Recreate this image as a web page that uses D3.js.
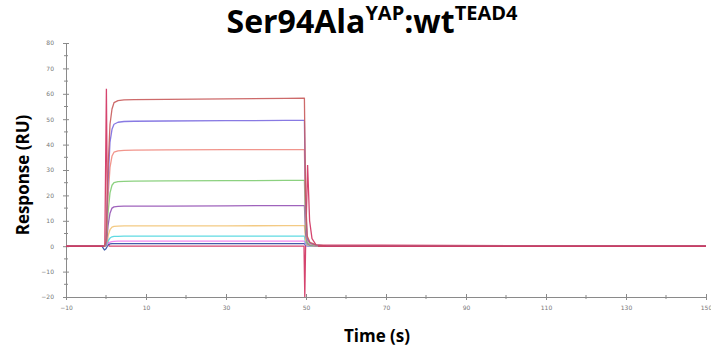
<!DOCTYPE html>
<html>
<head>
<meta charset="utf-8">
<script src="https://cdn.jsdelivr.net/npm/d3@7"></script>
<style>
  html, body { margin: 0; padding: 0; background: #fff; }
  svg { display: block; }
</style>
</head>
<body>
<svg id="chart" width="711" height="353"></svg>
<script>
// Sensorgram sample times (s) shared by the analyte curves
const times = [-10, -1, -0.4, 0, 0.5, 1, 1.5, 2, 3, 4.5, 7, 15, 30, 45, 49.6, 49.9, 50.3, 51, 52.5, 55, 150];

// Response (RU) of each analyte concentration, highest first
const curve1 = [0, 0, 0, 2, 30, 48, 54, 56.5, 57.3, 57.6, 57.7, 57.8, 58, 58.2, 58.3, 20, 4, 1.5, 0.5, 0.1, 0];
const curve2 = [0, 0, 0, 1, 25, 41, 46, 48, 48.8, 49.1, 49.2, 49.3, 49.4, 49.5, 49.5, 16, 3, 1.2, 0.4, 0.1, 0];
const curve3 = [0, 0, 0, 1, 19, 31, 35.5, 37, 37.5, 37.7, 37.8, 37.9, 38, 38, 38, 12, 2.5, 1, 0.3, 0.1, 0];
const curve4 = [0, 0, 0, 0.5, 13, 21, 24, 25, 25.4, 25.5, 25.6, 25.7, 25.8, 25.9, 25.9, 8, 1.5, 0.5, 0.2, 0, 0];
const curve5 = [0, 0, 0, 0.3, 8, 13, 15, 15.5, 15.7, 15.8, 15.8, 15.8, 15.9, 16, 16, 5, 1, 0.3, 0.1, 0, 0];
const curve6 = [0, 0, 0, 0.2, 4, 6.5, 7.5, 7.8, 7.9, 8, 8, 8, 8, 8.1, 8.1, 2.5, 0.5, 0.2, 0, 0, 0];
const curve7 = [0, 0, 0, 0.1, 2, 3.2, 3.7, 3.9, 3.9, 4, 4, 4, 4, 4, 4, 1.2, 0.3, 0.1, 0, 0, 0];
const curve8 = [0, 0, 0, 0, 1, 1.6, 1.8, 1.9, 2, 2, 2, 2, 2, 2, 2, 0.6, 0.2, 0, 0, 0, 0];
const curve9 = [0, 0, -1.5, -1, 0.5, 0.9, 1, 1, 1, 1, 1, 1, 1, 1, 1, 0.3, 0.1, 0, 0, 0, 0];
const curves = [curve1, curve2, curve3, curve4, curve5, curve6, curve7, curve8, curve9];
const curveColors = ["#c85a5a", "#7b6be0", "#f08a80", "#7fcc72", "#9552b5", "#f2c477", "#4fd6df", "#f07cf0", "#2f4aa0"];

// Buffer blank with injection spikes
const blankTimes = [-10, -0.3, 0.1, 0.4, 0.8, 49.5, 49.7, 49.9, 50.4, 50.9, 51.5, 52.5, 150];
const blankValues = [0, 0, 62, 2, 0, 0, -20, 0, 32, 10, 3, 0.5, 0];
const blankColor = "#d0305e";

// Axis ticks
const xLabelTicks = [-10, 10, 30, 50, 70, 90, 110, 130, 150];
const xMinorTicks = [0, 20, 40, 60, 80, 100, 120, 140];
const yLabelTicks = [-20, -10, 0, 10, 20, 30, 40, 50, 60, 70, 80];
const yMinorTicks = [-15, -5, 5, 15, 25, 35, 45, 55, 65, 75];

const svg = d3.select("#chart");
const x = d3.scaleLinear().domain([-10, 150]).range([66, 706]);
const y = d3.scaleLinear().domain([-20, 80]).range([297, 43]);

const axisColor = "#8a8a8a";
const tickFont = "6px 'DejaVu Sans', sans-serif";

// X axis along the bottom (y = -20)
const xAxis = svg.append("g").attr("transform", `translate(0,${y(-20)})`)
  .call(d3.axisBottom(x).tickValues(xLabelTicks).tickSize(3).tickPadding(6));
xAxis.selectAll(".tick line").attr("y1", -3);
xAxis.append("g").selectAll("line").data(xMinorTicks).join("line")
  .attr("x1", d => x(d)).attr("x2", d => x(d)).attr("y1", -2).attr("y2", 2)
  .attr("stroke", axisColor);

// Y axis on the left
const yAxis = svg.append("g").attr("transform", `translate(${x(-10)},0)`)
  .call(d3.axisLeft(y).tickValues(yLabelTicks).tickSize(3).tickPadding(9));
yAxis.selectAll(".tick line").attr("x1", 3);
yAxis.append("g").selectAll("line").data(yMinorTicks).join("line")
  .attr("y1", d => y(d)).attr("y2", d => y(d)).attr("x1", -2).attr("x2", 2)
  .attr("stroke", axisColor);

[xAxis, yAxis].forEach(g => {
  g.select(".domain").attr("stroke", axisColor);
  g.selectAll(".tick line").attr("stroke", axisColor);
  g.selectAll(".tick text").attr("fill", "#777").style("font", tickFont);
});

const line = d3.line().x(d => x(d[0])).y(d => y(d[1]));

// Blank trace (drawn first, it spans the whole run)
svg.append("path")
  .datum(blankTimes.map((t, i) => [t, blankValues[i]]))
  .attr("d", line).attr("fill", "none")
  .attr("stroke", blankColor).attr("stroke-width", 1.3).attr("opacity", 0.9);

// Analyte curves, lowest drawn first
curves.slice().reverse().forEach((vals, k) => {
  const i = curves.length - 1 - k;
  svg.append("path")
    .datum(times.map((t, j) => [t, vals[j]]))
    .attr("d", line).attr("fill", "none")
    .attr("stroke", curveColors[i]).attr("stroke-width", 1.3)
    .attr("stroke-linejoin", "round").attr("opacity", 0.9);
});

// Zero baseline stays on top, as in the run overlay
svg.append("path")
  .datum([[-10, 0], [-0.6, 0]])
  .attr("d", line).attr("stroke", blankColor).attr("stroke-width", 1.3);
svg.append("path")
  .datum([[53, 0], [150, 0]])
  .attr("d", line).attr("stroke", blankColor).attr("stroke-width", 1.3);

// Title with superscripts
const title = svg.append("text")
  .attr("x", 372).attr("y", 33).attr("text-anchor", "middle")
  .style("font-family", "'Open Sans', sans-serif").style("font-weight", "bold")
  .style("font-size", "32px").attr("fill", "#000");
title.append("tspan").text("Ser94Ala");
title.append("tspan").attr("dy", -13).style("font-size", "20px").text("YAP");
title.append("tspan").attr("dy", 13).text(":wt");
title.append("tspan").attr("dy", -13).style("font-size", "20px").text("TEAD4");

// Axis titles
svg.append("text")
  .attr("x", 377).attr("y", 342).attr("text-anchor", "middle")
  .style("font-family", "'Open Sans', sans-serif").style("font-weight", "bold")
  .style("font-size", "17px").text("Time (s)");
svg.append("text")
  .attr("transform", "translate(29,175) rotate(-90)").attr("text-anchor", "middle")
  .style("font-family", "'Open Sans', sans-serif").style("font-weight", "bold")
  .style("font-size", "17px").text("Response (RU)");
</script>
</body>
</html>
